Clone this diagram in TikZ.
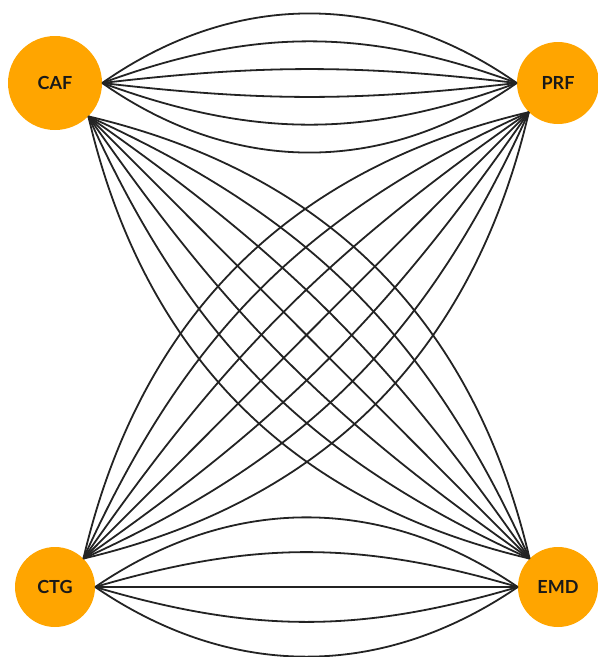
\documentclass[tikz,border=0pt]{standalone}
\usepackage{fontspec}
\setmainfont{Lato}
\definecolor{nodeorange}{RGB}{255,165,0}
\definecolor{linegray}{RGB}{35,35,35}
\begin{document}
\begin{tikzpicture}[x=1pt,y=-1pt,
  nd/.style={circle, fill=nodeorange, inner sep=0pt, text=black!90,
             font=\bfseries\fontsize{18}{18}\selectfont},
  ln/.style={draw=linegray, line width=1.8pt}]
\useasboundingbox (0,0) rectangle (598,657);
\clip (0,0) rectangle (598,657);
\node[nd, minimum size=94pt] (CAF) at (55,83) {CAF};
\node[nd, minimum size=82pt] (PRF) at (558,83) {PRF};
\node[nd, minimum size=80pt] (CTG) at (55,587) {CTG};
\node[nd, minimum size=80pt] (EMD) at (558,587) {EMD};
% CAF -- PRF (6)
\foreach \a in {6.6,20.1,35} {
  \draw[ln] (CAF.east) to[bend left=\a] (PRF.west);
  \draw[ln] (CAF.east) to[bend right=\a] (PRF.west);
}
% CTG -- EMD (5)
\draw[ln] (CTG.east) -- (EMD.west);
\foreach \a in {16.4,34.3} {
  \draw[ln] (CTG.east) to[bend left=\a] (EMD.west);
  \draw[ln] (CTG.east) to[bend right=\a] (EMD.west);
}
% CAF -- EMD (7)
\draw[ln] (CAF.-45) -- (EMD.135);
\foreach \a in {10.1,20.6,31.8} {
  \draw[ln] (CAF.-45) to[bend left=\a] (EMD.135);
  \draw[ln] (CAF.-45) to[bend right=\a] (EMD.135);
}
% PRF -- CTG (7)
\draw[ln] (PRF.225) -- (CTG.45);
\foreach \a in {10.1,20.6,31.8} {
  \draw[ln] (PRF.225) to[bend left=\a] (CTG.45);
  \draw[ln] (PRF.225) to[bend right=\a] (CTG.45);
}
\end{tikzpicture}
\end{document}
